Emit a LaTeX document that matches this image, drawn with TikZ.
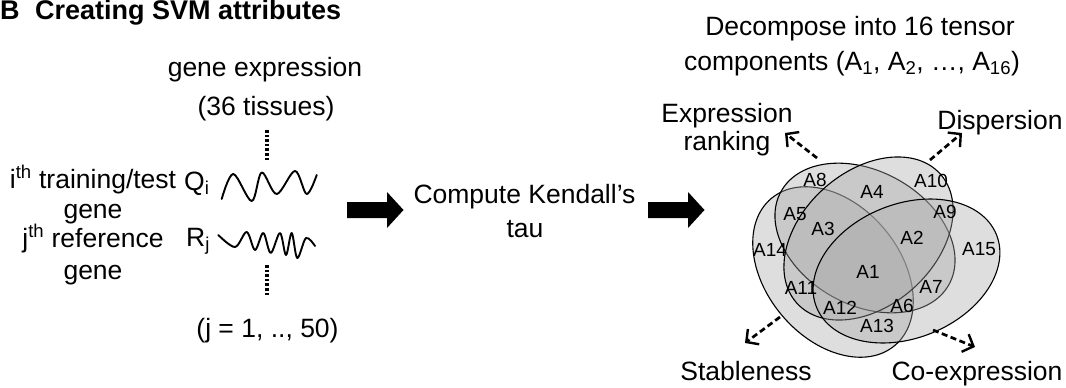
\documentclass[tikz,border=0pt]{standalone}
\usepackage{fontspec}
\setmainfont{Liberation Sans}
\usetikzlibrary{arrows.meta}
\definecolor{vennfill}{gray}{0.66}
\begin{document}
\begin{tikzpicture}[x=1pt,y=-1pt,
  txt/.style={font=\fontsize{26.5}{30}\selectfont, inner sep=0pt, anchor=base},
  reg/.style={font=\fontsize{19}{21}\selectfont, inner sep=0pt},
  venn/.style={draw=black, line width=1.1pt, fill=vennfill, fill opacity=0.38},
  dotline/.style={line width=3.4pt, dash pattern=on 2.6pt off 2pt},
  dasharrow/.style={line width=2.7pt, dash pattern=on 6pt off 3.5pt, -{Straight Barb[length=9pt,width=19pt,line width=2.4pt]}},
  wave/.style={line width=1.9pt, line join=round, line cap=round},
  blockarrow/.style={fill=black}
]
\useasboundingbox (0,0) rectangle (1066,388);

% title
\node[font=\bfseries\fontsize{27}{30}\selectfont, inner sep=0pt, anchor=base west] (title) at (0,19.5) {B\hspace{0.57em}Creating SVM attributes};

% left part
\node[txt] (ge1) at (265,76) {gene expression};
\node[txt] (ge2) at (266,115) {(36 tissues)};
\coordinate (d1a) at (267,130);
\coordinate (d1b) at (267,162);
\draw[dotline] (d1a) -- (d1b);
\node[txt] (tq1) at (93,188) {i\textsuperscript{th} training/test};
\node[txt] (tq2) at (93,218) {gene};
\node[txt] (tr1) at (93,247) {j\textsuperscript{th} reference};
\node[txt] (tr2) at (93,279) {gene};
\node[txt, anchor=base west] (Q) at (184,190) {Q\textsubscript{i}};
\node[txt, anchor=base west] (R) at (186,246) {R\textsubscript{j}};
\draw[wave] plot[smooth, tension=0.55] coordinates {(221.7,199) (233.3,174) (251.7,201) (261.7,172.5) (276.7,194) (295,171) (306.7,194) (316.7,175)};
\draw[wave] plot[smooth, tension=0.55] coordinates {(218.3,235) (235,247) (246.7,232) (255,250) (263.3,233) (270.7,253) (280,233) (286,255) (291.7,233) (297.3,258) (306,238) (315,246)};
\coordinate (d2a) at (267,265);
\coordinate (d2b) at (267,295);
\draw[dotline] (d2a) -- (d2b);
\node[txt] (jn) at (267.5,337) {(j = 1, .., 50)};

% block arrows
\fill[blockarrow] (347,202) -- (387,202) -- (387,192) -- (403.5,210) -- (387,228) -- (387,218) -- (347,218) -- cycle;
\fill[blockarrow] (648,202) -- (688,202) -- (688,192) -- (704.5,210) -- (688,228) -- (688,218) -- (648,218) -- cycle;

% middle
\node[txt] (ck1) at (524.5,203) {Compute Kendall’s};
\node[txt] (ck2) at (525,237) {tau};

% right part
\node[txt] (dc1) at (860,35) {Decompose into 16 tensor};
\node[txt] (dc2) at (852,70) {components (A\textsubscript{1}, A\textsubscript{2}, …, A\textsubscript{16})};

\path[venn, shift={(833,272)}, rotate=-50] (0,0) ellipse [x radius=96, y radius=67];
\path[venn, shift={(865,238)}, rotate=-29] (0,0) ellipse [x radius=96, y radius=67];
\path[venn, shift={(868.5,238.5)}, rotate=42] (0,0) ellipse [x radius=96.5, y radius=67];
\path[venn, shift={(906.5,271)}, rotate=22] (0,0) ellipse [x radius=97, y radius=67];

\node[reg] (a1) at (868,272) {A1};
\node[reg] (a2) at (912,238) {A2};
\node[reg] (a3) at (823,229) {A3};
\node[reg] (a4) at (872,192) {A4};
\node[reg] (a5) at (795,214) {A5};
\node[reg] (a6) at (902,306) {A6};
\node[reg] (a7) at (931,287) {A7};
\node[reg] (a8) at (815,180) {A8};
\node[reg] (a9) at (945,212) {A9};
\node[reg] (a10) at (931,181) {A10};
\node[reg] (a11) at (801,288) {A11};
\node[reg] (a12) at (840,308) {A12};
\node[reg] (a13) at (877,326) {A13};
\node[reg] (a14) at (770,250) {A14};
\node[reg] (a15) at (979,249) {A15};

\node[txt] (er1) at (727,122) {Expression};
\node[txt] (er2) at (727,150) {ranking};
\node[txt] (dp) at (1000,129) {Dispersion};
\node[txt] (st) at (746,380) {Stableness};
\node[txt] (co) at (977,380) {Co-expression};

\coordinate (erS) at (817,158); \coordinate (erT) at (785,133);
\coordinate (dpS) at (930,160); \coordinate (dpT) at (962,133);
\coordinate (stS) at (780,317); \coordinate (stT) at (745,343);
\coordinate (coS) at (933,330); \coordinate (coT) at (975,347);
\draw[dasharrow] (erS) -- (erT);
\draw[dasharrow] (dpS) -- (dpT);
\draw[dasharrow] (stS) -- (stT);
\draw[dasharrow] (coS) -- (coT);
\end{tikzpicture}
\end{document}
